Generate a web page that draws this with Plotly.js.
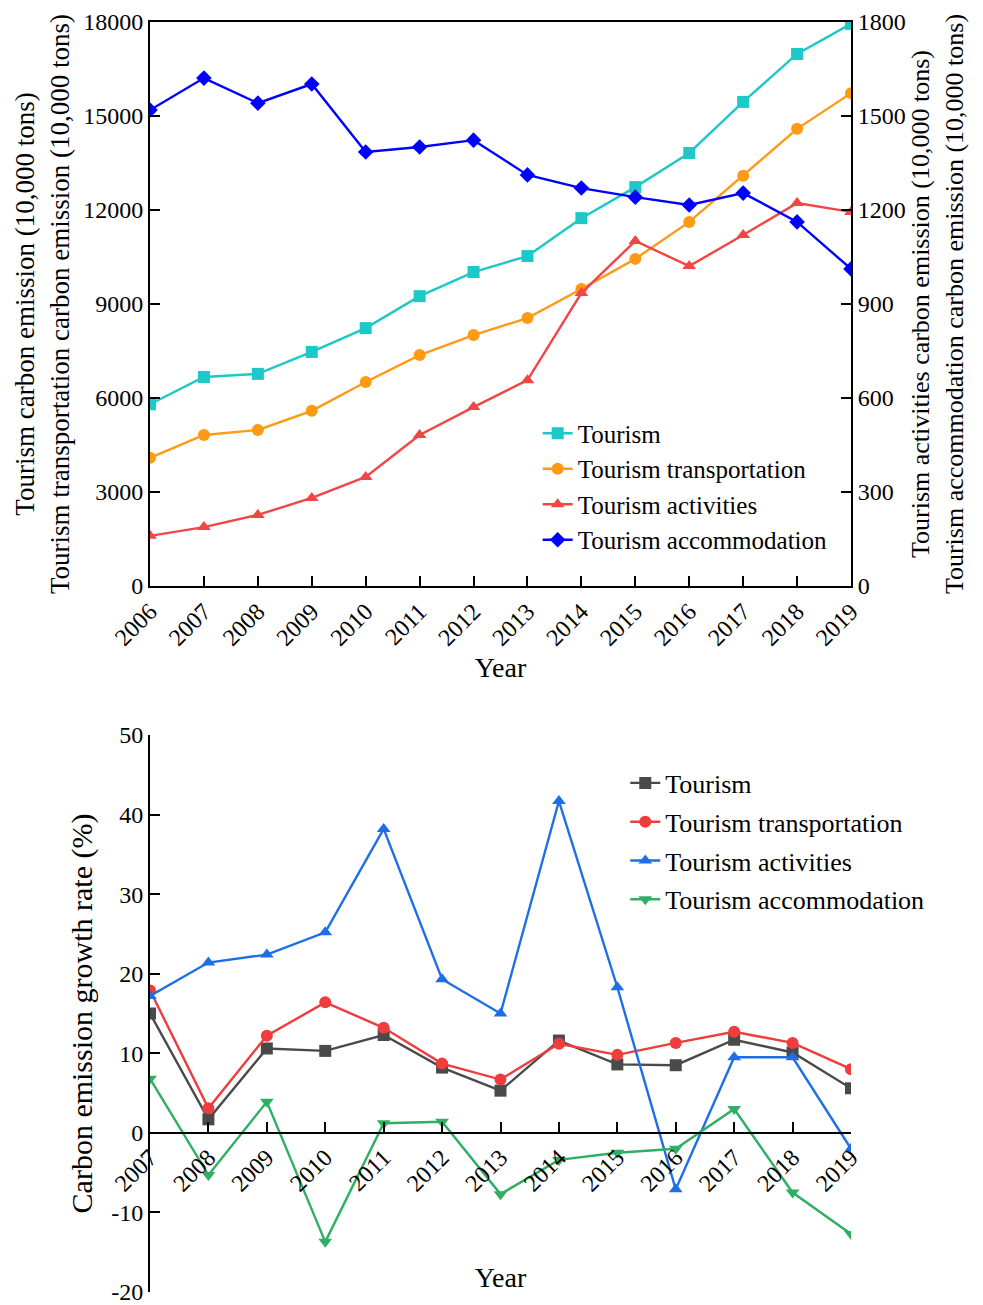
<!DOCTYPE html>
<html>
<head>
<meta charset="utf-8">
<script src="https://cdn.plot.ly/plotly-3.0.1.min.js"></script>
<style>html,body{margin:0;padding:0;background:#fff;}#chart{width:983px;height:1305px;}</style>
</head>
<body>
<div id="chart"></div>
<script>
// ---- data: top chart (carbon emission, 10,000 tons) ----
const years = [2006,2007,2008,2009,2010,2011,2012,2013,2014,2015,2016,2017,2018,2019];
const tourism = [5800,6670,6770,7470,8230,9250,10020,10530,11740,12730,13820,15450,16980,17940];
const transportation = [4090,4820,4980,5590,6510,7370,8010,8550,9480,10440,11620,13090,14590,15730];
const activities = [160,188,227,281,348,482,571,657,935,1101,1021,1120,1222,1194];
const accommodation = [1519,1621,1541,1602,1385,1401,1423,1312,1270,1241,1216,1254,1162,1012];

// ---- data: bottom chart (growth rate, %) ----
const gYears = [2007,2008,2009,2010,2011,2012,2013,2014,2015,2016,2017,2018,2019];
const gTourism = [15.0,1.7,10.6,10.3,12.3,8.2,5.3,11.6,8.6,8.5,11.7,10.1,5.6];
const gTransportation = [17.9,3.1,12.2,16.4,13.2,8.7,6.7,11.2,9.8,11.3,12.7,11.3,8.0];
const gActivities = [17.2,21.4,22.4,25.2,38.2,19.3,15.0,41.7,18.3,-7.1,9.5,9.5,-2.0];
const gAccommodation = [6.8,-5.3,3.9,-13.7,1.2,1.4,-7.7,-3.4,-2.5,-2.0,3.0,-7.5,-12.7];

// ---- tick labels for the growth-rate axis ----
const rateTickVals = [-20,-10,0,10,20,30,40,50];
const rateTickText = ['-20','-10','0','10','20','30','40','50'];

const names = ['Tourism','Tourism transportation','Tourism activities','Tourism accommodation'];

const FONT = 'Liberation Serif';
const topColors = ['#1CC8C8','#FF9A14','#F04646','#0000FF'];
const botColors = ['#4A4A4A','#F03C3C','#1E6FE6','#2EAF64'];

function tr(x, y, name, color, symbol, xa, ya, leg, grp) {
  return {x: x, y: y, name: name, type: 'scatter', mode: 'lines+markers',
    xaxis: xa, yaxis: ya, legend: leg, legendgroup: grp,
    line: {color: color, width: 2.4},
    marker: {color: color, symbol: symbol, size: 12}};
}

const data = [
  tr(years, tourism, names[0], topColors[0], 'square', 'x', 'y', 'legend', 'a'),
  tr(years, transportation, names[1], topColors[1], 'circle', 'x', 'y', 'legend', 'a'),
  tr(years, activities, names[2], topColors[2], 'triangle-up', 'x', 'y2', 'legend', 'a'),
  tr(years, accommodation, names[3], topColors[3], 'diamond', 'x', 'y2', 'legend', 'a'),
  tr(gYears, gTourism, names[0], botColors[0], 'square', 'x2', 'y3', 'legend2', 'g1'),
  tr(gYears, gTransportation, names[1], botColors[1], 'circle', 'x2', 'y3', 'legend2', 'g2'),
  tr(gYears, gActivities, names[2], botColors[2], 'triangle-up', 'x2', 'y3', 'legend2', 'g3'),
  tr(gYears, gAccommodation, names[3], botColors[3], 'triangle-down', 'x2', 'y3', 'legend2', 'g4')
];

function tf(s) { return {family: FONT, size: s, color: '#000'}; }
function axBase() {
  return {showgrid: false, zeroline: false, showline: true, linecolor: '#000', linewidth: 2,
    ticks: 'inside', ticklen: 10, tickwidth: 2, tickcolor: '#000', tickfont: tf(24),
    tickformat: 'd', ticklabeloverflow: 'allow'};
}

const layout = {
  width: 983, height: 1305,
  margin: {l: 150, r: 132, t: 22, b: 13},
  paper_bgcolor: '#fff', plot_bgcolor: '#fff',
  font: tf(24),
  xaxis: Object.assign(axBase(), {domain: [0, 1], anchor: 'y', range: [2006, 2019], dtick: 1,
    tickangle: -45, mirror: true,
    title: {text: 'Year', font: tf(28), standoff: 8}}),
  yaxis: Object.assign(axBase(), {domain: [0.5559, 1], anchor: 'x', range: [0, 18000], dtick: 3000,
    title: {text: 'Tourism carbon emission (10,000 tons)<br>Tourism transportation carbon emission (10,000 tons)',
      font: tf(27), standoff: 6}}),
  yaxis2: Object.assign(axBase(), {overlaying: 'y', side: 'right', anchor: 'x', range: [0, 1800], dtick: 300,
    title: {text: 'Tourism activities carbon emission (10,000 tons)<br>Tourism accommodation carbon emission (10,000 tons)',
      font: tf(26), standoff: 6}}),
  xaxis2: Object.assign(axBase(), {domain: [0, 1], anchor: 'free', position: 0.1253, range: [2007, 2019], dtick: 1,
    tickangle: -45,
    title: {text: 'Year', font: tf(28), standoff: 71}}),
  yaxis3: Object.assign(axBase(), {domain: [0, 0.4386], anchor: 'x2', range: [-20, 50],
    tickmode: 'array', tickvals: rateTickVals, ticktext: rateTickText,
    title: {text: 'Carbon emission growth rate (%)', font: tf(30), standoff: 10}}),
  showlegend: true,
  legend: {x: 0.553, y: 0.6941, xanchor: 'left', yanchor: 'top', bgcolor: 'rgba(0,0,0,0)',
    font: tf(25), tracegroupgap: 0},
  legend2: {x: 0.678, y: 0.4193, xanchor: 'left', yanchor: 'top', bgcolor: 'rgba(0,0,0,0)',
    font: tf(26), tracegroupgap: 2}
};

Plotly.newPlot('chart', data, layout, {displayModeBar: false, staticPlot: true});
</script>
</body>
</html>
